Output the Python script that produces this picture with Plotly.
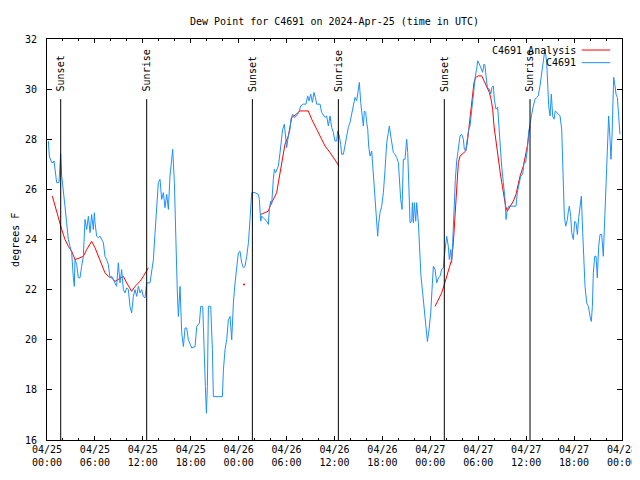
import pandas as pd
import plotly.graph_objects as go

BASE = pd.Timestamp("2024-04-25 00:00")

# ---- observed dew point (C4691), hours after 2024-04-25 00:00 UTC ----
obs_hours = [
    0.17, 0.29, 0.58, 0.79, 0.88, 1.21, 1.50, 1.63, 1.71, 1.84,
    2.05, 2.25, 2.46, 2.67, 2.88, 3.09, 3.30, 3.42, 3.51, 3.72,
    3.92, 4.13, 4.34, 4.55, 4.76, 4.97, 5.18, 5.39, 5.59, 5.80,
    5.93, 6.01, 6.22, 6.43, 6.64, 6.85, 7.06, 7.26, 7.47, 7.68,
    7.89, 8.10, 8.52, 8.72, 8.93, 9.14, 9.35, 9.56, 9.77, 9.98,
    10.19, 10.39, 10.60, 10.81, 11.02, 11.23, 11.44, 11.65, 11.86, 12.06,
    12.27, 12.48, 12.90, 13.11, 13.32, 13.53, 13.74, 13.94, 14.15, 14.36,
    14.57, 14.78, 14.99, 15.20, 15.40, 15.61, 15.74, 15.95, 16.16, 16.32,
    16.45, 16.66, 16.87, 17.08, 17.28, 17.49, 17.70, 18.12, 18.54, 18.75,
    19.08, 19.25, 19.50, 19.66, 19.83, 19.96, 20.08, 20.21, 20.50, 20.71,
    20.83, 21.96, 22.09, 22.29, 22.50, 22.71, 22.92, 23.13, 23.34, 23.55,
    23.76, 23.96, 24.17, 24.38, 24.59, 24.80, 25.01, 25.22, 25.42, 25.63,
    26.05, 26.46, 26.59, 26.67, 26.76, 26.88, 27.09, 27.30, 27.51, 27.72,
    27.84, 28.01, 28.13, 28.34, 28.47, 28.63, 28.76, 28.97, 29.18, 29.30,
    29.51, 29.72, 29.89, 30.01, 30.22, 30.43, 30.55, 30.76, 30.93, 31.18,
    31.39, 31.60, 31.76, 32.10, 32.43, 32.64, 32.81, 33.02, 33.23, 33.43,
    33.60, 33.77, 34.19, 34.39, 34.81, 35.02, 35.23, 35.44, 35.65, 35.86,
    36.06, 36.27, 36.40, 36.61, 36.77, 36.90, 37.11, 37.32, 37.53, 37.73,
    37.94, 38.15, 38.36, 38.57, 38.78, 38.95, 39.11, 39.28, 39.45, 39.61,
    39.74, 39.91, 40.03, 40.16, 40.28, 40.45, 40.66, 40.87, 41.07, 41.28,
    41.41, 41.49, 41.70, 41.91, 42.12, 42.33, 42.54, 42.74, 42.87, 43.04,
    43.20, 43.37, 43.58, 43.79, 44.00, 44.12, 44.29, 44.46, 44.62, 44.83,
    45.04, 45.17, 45.33, 45.46, 45.67, 45.75, 45.87, 46.00, 46.17, 46.29,
    46.50, 46.63, 46.83, 47.04, 47.25, 47.46, 47.63, 47.84, 48.05, 48.21,
    48.38, 48.59, 48.80, 49.01, 49.21, 49.42, 49.63, 49.75, 49.92, 50.05,
    50.25, 50.38, 50.55, 50.67, 50.80, 50.96, 51.13, 51.30, 51.51, 51.72,
    51.92, 52.13, 52.26, 52.43, 52.63, 52.80, 52.97, 53.18, 53.30, 53.47,
    53.64, 53.80, 53.93, 54.14, 54.35, 54.55, 54.72, 54.85, 54.97, 55.14,
    55.39, 55.56, 55.72, 55.89, 56.01, 56.22, 56.43, 56.60, 56.81, 56.93,
    57.14, 57.35, 57.48, 57.64, 57.81, 58.19, 58.73, 58.89, 59.15, 59.31,
    59.56, 59.73, 59.94, 60.15, 60.31, 60.48, 60.69, 60.90, 61.11, 61.32,
    61.52, 61.73, 61.94, 62.15, 62.36, 62.57, 62.69, 62.82, 62.99, 63.15,
    63.32, 63.49, 63.65, 63.82, 64.03, 64.24, 64.45, 64.57, 64.66, 64.78,
    64.95, 65.16, 65.28, 65.41, 65.57, 65.70, 65.91, 66.07, 66.24, 66.41,
    66.58, 66.74, 66.91, 67.08, 67.24, 67.37, 67.58, 67.79, 68.00, 68.16,
    68.29, 68.41, 68.58, 68.75, 68.91, 69.08, 69.25, 69.46, 69.66, 69.79,
    69.92, 70.08, 70.21, 70.33, 70.50, 70.62, 70.75, 70.83, 70.96, 71.13,
    71.25, 71.42, 71.54, 71.67, 71.75,
]
obs_dewpt = [
    27.93, 27.33, 27.07, 27.07, 27.13, 26.27, 26.27, 27.07, 27.40, 26.53,
    26.00, 25.33, 24.67, 24.00, 23.73, 23.47, 22.47, 22.13, 23.20, 23.00,
    22.47, 22.47, 22.93, 23.33, 24.80, 24.40, 24.93, 24.27, 25.00, 24.40,
    25.07, 24.67, 24.13, 24.07, 24.13, 24.00, 23.87, 23.33, 23.20, 23.00,
    22.47, 22.53, 22.27, 22.13, 23.07, 22.27, 22.80, 22.00, 21.87, 22.07,
    22.00, 21.33, 21.07, 21.73, 22.00, 21.73, 22.13, 21.87, 22.00, 21.73,
    21.67, 22.27, 22.27, 22.67, 23.20, 24.27, 25.20, 26.27, 26.40, 25.60,
    25.87, 25.27, 25.80, 25.20, 26.53, 27.33, 27.60, 26.27, 23.07, 21.87,
    20.93, 22.13, 20.27, 19.73, 20.47, 20.47, 20.00, 19.67, 19.73, 20.53,
    20.67, 21.33, 21.33, 19.20, 18.13, 17.07, 18.13, 21.33, 21.33, 19.60,
    17.73, 17.73, 18.80, 19.60, 20.00, 20.80, 20.93, 20.00, 21.47, 22.27,
    22.80, 23.47, 23.53, 23.07, 22.87, 22.93, 23.33, 23.87, 24.80, 25.87,
    25.87, 25.80, 25.60, 24.93, 24.73, 24.93, 24.87, 24.80, 24.73, 24.60,
    25.20, 25.53, 25.40, 26.40, 26.80, 26.67, 26.80, 26.93, 27.47, 27.93,
    28.40, 28.60, 28.00, 27.67, 28.13, 28.40, 28.80, 29.00, 28.87, 28.91,
    29.00, 29.13, 29.33, 29.40, 29.40, 29.73, 29.53, 29.80, 29.47, 29.87,
    29.67, 29.40, 29.40, 29.07, 28.87, 28.93, 28.53, 28.93, 28.47, 28.27,
    27.93, 27.93, 28.33, 28.13, 27.80, 27.40, 27.40, 27.80, 28.13, 28.47,
    28.67, 29.00, 29.33, 29.67, 29.53, 29.87, 30.27, 29.47, 28.93, 28.53,
    29.13, 29.07, 28.67, 28.40, 27.73, 27.33, 27.53, 26.67, 25.73, 24.73,
    24.13, 24.53, 25.07, 25.33, 25.87, 26.80, 27.87, 28.27, 28.53, 28.13,
    27.80, 27.47, 27.40, 27.27, 27.07, 26.27, 25.60, 25.20, 27.20, 27.20,
    28.00, 27.47, 25.47, 24.67, 24.73, 25.47, 24.67, 25.47, 24.73, 25.47,
    24.67, 23.87, 22.53, 21.87, 21.20, 20.67, 19.93, 20.40, 21.07, 22.00,
    22.93, 22.80, 22.27, 22.47, 22.53, 22.80, 22.87, 23.33, 23.73, 24.13,
    23.73, 23.20, 23.60, 23.07, 23.87, 25.47, 26.40, 27.13, 27.73, 28.13,
    28.20, 28.00, 27.60, 27.53, 28.00, 28.40, 28.53, 29.20, 29.73, 30.27,
    30.53, 30.80, 31.13, 31.00, 30.80, 30.67, 31.00, 30.93, 30.53, 30.07,
    30.00, 29.80, 30.07, 30.13, 29.60, 29.20, 29.27, 28.40, 27.60, 26.93,
    26.27, 25.60, 24.80, 25.20, 25.33, 25.33, 25.33, 25.87, 26.33, 26.53,
    26.60, 27.07, 27.07, 27.60, 28.27, 28.67, 29.00, 29.33, 29.60, 29.67,
    29.73, 30.13, 30.67, 31.20, 31.60, 31.07, 30.40, 29.33, 28.93, 29.80,
    28.93, 28.80, 29.13, 29.07, 29.00, 28.93, 28.40, 27.33, 25.87, 24.93,
    24.53, 24.80, 25.13, 25.33, 24.93, 24.27, 24.00, 24.73, 24.67, 24.20,
    24.87, 25.20, 25.73, 24.27, 23.20, 22.13, 21.47, 21.33, 20.93, 20.73,
    21.33, 22.67, 23.33, 23.33, 22.47, 23.73, 24.20, 24.20, 23.33, 24.40,
    25.47, 26.93, 28.27, 28.93, 28.00, 27.20, 28.13, 29.67, 30.47, 30.13,
    29.80, 29.67, 29.27, 28.53, 28.20,
]

# ---- analysis (red), three segments plus one isolated value ----
ana1_hours = [0.67, 1.00, 1.42, 1.84, 2.25, 2.67, 3.09, 3.51, 4.13, 4.55,
              4.97, 5.59, 6.01, 6.43, 6.85, 7.26, 7.68, 8.10, 8.52, 8.93,
              9.35, 9.56, 9.98, 10.39, 10.60, 11.02, 11.65, 12.06, 12.40, 12.69]
ana1_dewpt = [25.73, 25.33, 24.80, 24.40, 24.00, 23.73, 23.53, 23.20, 23.27, 23.33,
              23.60, 23.93, 23.67, 23.33, 23.00, 22.67, 22.53, 22.47, 22.33, 22.40,
              22.47, 22.53, 22.27, 22.07, 21.93, 22.13, 22.33, 22.53, 22.73, 22.87]
ana_single_hours = [24.67]
ana_single_dewpt = [22.20]
ana2_hours = [26.76, 27.30, 27.72, 27.92, 28.34, 28.76, 28.97, 29.18, 29.38, 29.59,
              29.80, 30.22, 30.43, 30.64, 31.05, 31.68, 32.72, 33.14, 33.77, 34.39,
              34.81, 35.44, 36.06, 36.57]
ana2_dewpt = [25.00, 25.07, 25.13, 25.33, 25.60, 25.87, 26.27, 26.67, 27.07, 27.47,
              27.80, 28.13, 28.47, 28.87, 28.96, 29.13, 29.13, 28.80, 28.40, 28.00,
              27.73, 27.47, 27.20, 26.93]
ana3_hours = [48.59, 49.00, 49.42, 49.75, 50.05, 50.38, 50.67, 50.88, 51.01, 51.17,
              51.30, 51.51, 51.72, 52.13, 52.43, 52.63, 52.84, 53.05, 53.26, 53.47,
              53.68, 54.01, 54.43, 54.72, 55.06, 55.39, 55.60, 55.81, 55.97, 56.18,
              56.39, 56.60, 56.81, 57.02, 57.23, 57.43, 57.64, 57.98, 58.39, 58.73,
              59.02, 59.23, 59.65, 59.85, 60.15, 60.36, 60.48]
ana3_dewpt = [21.33, 21.60, 21.87, 22.20, 22.53, 22.93, 23.20, 23.87, 24.53, 25.47,
              26.27, 27.07, 27.33, 27.47, 27.53, 27.87, 28.53, 28.93, 29.60, 30.27,
              30.47, 30.53, 30.53, 30.33, 30.07, 29.87, 29.60, 29.20, 28.53, 28.00,
              27.47, 26.93, 26.53, 26.13, 25.73, 25.33, 25.13, 25.33, 25.53, 25.80,
              26.27, 26.53, 26.93, 27.20, 27.73, 28.27, 28.53]

# ---- sun events ----
sun_times = ["2024-04-25 01:43", "2024-04-25 12:29", "2024-04-26 01:43",
             "2024-04-26 12:29", "2024-04-27 01:45", "2024-04-27 12:29"]
sun_labels = ["Sunset", "Sunrise", "Sunset", "Sunrise", "Sunset", "Sunrise"]

# ---- axis ticks ----
x_tick_times = ["2024-04-25 00:00", "2024-04-25 06:00", "2024-04-25 12:00", "2024-04-25 18:00",
                "2024-04-26 00:00", "2024-04-26 06:00", "2024-04-26 12:00", "2024-04-26 18:00",
                "2024-04-27 00:00", "2024-04-27 06:00", "2024-04-27 12:00", "2024-04-27 18:00",
                "2024-04-28 00:00"]
x_tick_labels = ["04/25<br>00:00", "04/25<br>06:00", "04/25<br>12:00", "04/25<br>18:00",
                 "04/26<br>00:00", "04/26<br>06:00", "04/26<br>12:00", "04/26<br>18:00",
                 "04/27<br>00:00", "04/27<br>06:00", "04/27<br>12:00", "04/27<br>18:00",
                 "04/28<br>00:00"]
y_tick_vals = [16, 18, 20, 22, 24, 26, 28, 30, 32]

assert len(obs_hours) == len(obs_dewpt)


def to_time(hours):
    return [None if h is None else BASE + pd.Timedelta(hours=h) for h in hours]


RED = "#ff0000"
BLUE = "#1e90ff"
FONT = dict(family="DejaVu Sans Mono, Liberation Mono, monospace", size=10, color="black")

# The page body adds an 8 px margin, so the figure is 8 px smaller than the window.
FIG_W, FIG_H = 632, 472

ana_hours = ana1_hours + [None] + ana2_hours + [None] + ana3_hours
ana_dewpt = ana1_dewpt + [None] + ana2_dewpt + [None] + ana3_dewpt

fig = go.Figure()
fig.add_trace(go.Scatter(x=to_time(ana_hours), y=ana_dewpt, mode="lines",
                         line=dict(color=RED, width=1), name="C4691 Analysis",
                         connectgaps=False))
fig.add_trace(go.Scatter(x=to_time(ana_single_hours), y=ana_single_dewpt, mode="markers",
                         marker=dict(color=RED, size=2), showlegend=False))
fig.add_trace(go.Scatter(x=to_time(obs_hours), y=obs_dewpt, mode="lines",
                         line=dict(color=BLUE, width=1), name="C4691"))

shapes = []
annotations = []
for t, lab in zip(sun_times, sun_labels):
    shapes.append(dict(type="line", xref="x", yref="paper", x0=t, x1=t, y0=0, y1=0.85,
                       line=dict(color="black", width=1)))
    annotations.append(dict(x=t, y=0.866, xref="x", yref="paper", text=lab, textangle=-90,
                            showarrow=False, xanchor="center", yanchor="bottom",
                            font=FONT, borderpad=0))

# custom legend (gnuplot style: text left, sample right)
legend_items = [("C4691 Analysis", RED, 0.9725), ("C4691", BLUE, 0.941)]
for text, col, yy in legend_items:
    annotations.append(dict(x=0.921, y=yy, xref="paper", yref="paper", text=text,
                            showarrow=False, xanchor="right", yanchor="middle",
                            font=FONT, borderpad=0))
    shapes.append(dict(type="line", xref="paper", yref="paper", x0=0.930, x1=0.9795,
                       y0=yy, y1=yy, line=dict(color=col, width=1)))

annotations.append(dict(x=-0.055, y=0.5, xref="paper", yref="paper", text="degrees F",
                        textangle=-90, showarrow=False, xanchor="center", yanchor="middle",
                        font=FONT, borderpad=0))

fig.update_layout(
    width=FIG_W, height=FIG_H,
    margin=dict(l=39, r=18, t=31, b=40, autoexpand=False),
    paper_bgcolor="white", plot_bgcolor="white",
    showlegend=False,
    font=FONT,
    title=dict(text="Dew Point for C4691 on 2024-Apr-25 (time in UTC)", font=FONT,
               x=0.5, xref="paper", xanchor="center", y=1 - 13 / FIG_H, yref="container",
               yanchor="middle", automargin=False),
    shapes=shapes,
    annotations=annotations,
)
fig.update_xaxes(
    type="date", range=["2024-04-25 00:00", "2024-04-28 00:00"], automargin=False,
    tickmode="array", tickvals=x_tick_times, ticktext=x_tick_labels,
    ticks="inside", ticklen=4, tickwidth=1, tickcolor="black",
    showline=True, linecolor="black", linewidth=1, mirror="allticks",
    showgrid=False, zeroline=False, tickfont=FONT,
    minor=dict(ticks="inside", ticklen=2, tickcolor="black", dtick=2 * 3600 * 1000,
               tick0="2024-04-25 00:00", showgrid=False),
)
fig.update_yaxes(
    range=[16, 32], tickmode="array", tickvals=y_tick_vals, automargin=False,
    ticks="inside", ticklen=5, tickwidth=1, tickcolor="black",
    showline=True, linecolor="black", linewidth=1, mirror="allticks",
    showgrid=False, zeroline=False, tickfont=FONT, ticklabelstandoff=7,
)

fig.write_html("out.html")
